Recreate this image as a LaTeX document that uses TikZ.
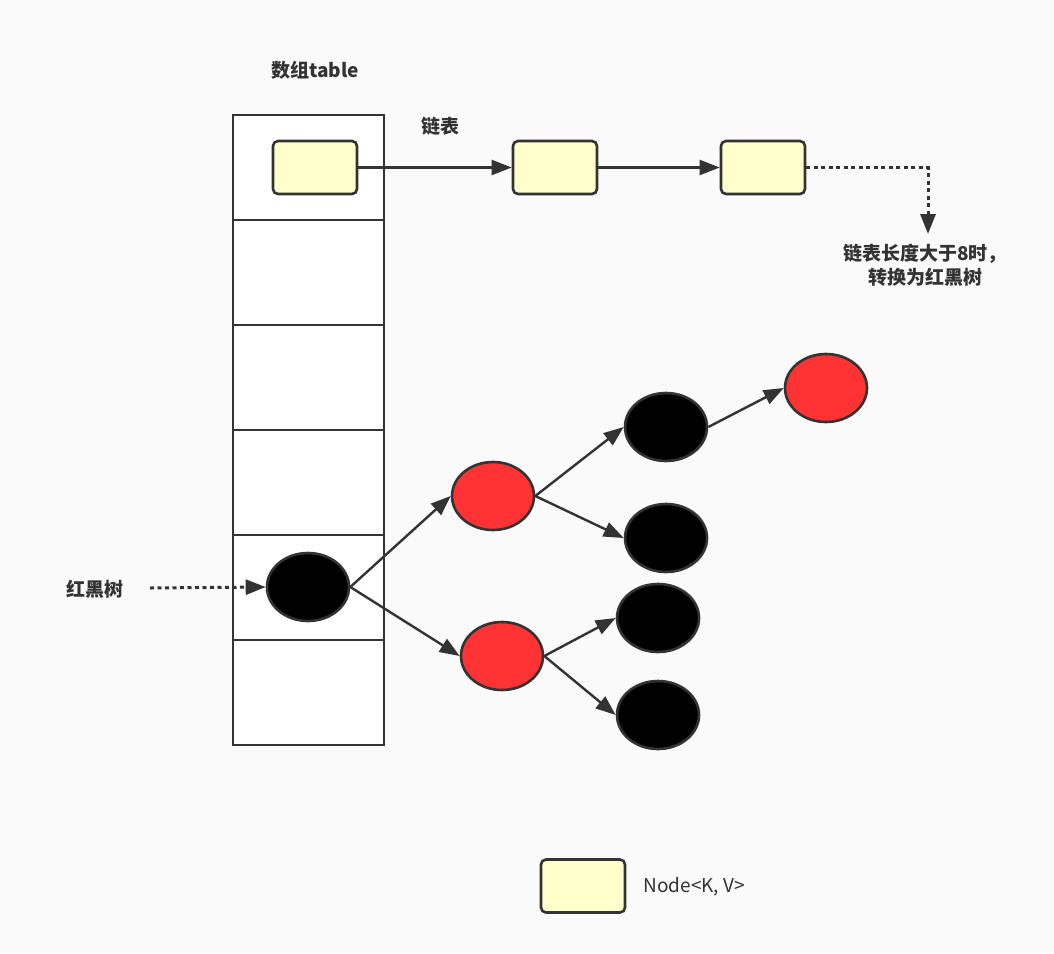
\documentclass[tikz,border=0pt]{standalone}
\usepackage{fontspec}
\setmainfont{Noto Sans CJK SC}
\usepackage{tikz}
\usetikzlibrary{arrows.meta,shapes.geometric}
\definecolor{inkgray}{HTML}{333333}
\definecolor{treered}{HTML}{FF3333}
\definecolor{kvyellow}{HTML}{FFFFCC}
\definecolor{pagebg}{HTML}{FAFAFA}

\begin{document}
\begin{tikzpicture}[
  x=1pt, y=-1pt,
  cell/.style={rectangle, draw=inkgray, line width=2.4pt, fill=white, minimum width=151pt, minimum height=105pt, inner sep=0pt},
  kvbox/.style={rectangle, rounded corners=5pt, draw=inkgray, line width=2.6pt, fill=kvyellow, minimum width=84pt, minimum height=53pt, inner sep=0pt},
  bnode/.style={ellipse, draw=inkgray, line width=2.6pt, fill=black, minimum width=82pt, minimum height=68pt, inner sep=0pt},
  rnode/.style={ellipse, draw=inkgray, line width=2.6pt, fill=treered, minimum width=82pt, minimum height=68pt, inner sep=0pt},
  link/.style={draw=inkgray, line width=2.4pt, -{Triangle[length=20pt,width=15pt]}},
  dots/.style={link, line width=3pt, dash pattern=on 4pt off 3.5pt},
  lbl/.style={font=\fontsize{19}{24}\selectfont\bfseries, text=inkgray, align=center}
]
% page
\fill[pagebg] (0,0) rectangle (1054,953);
\useasboundingbox (0,0) rectangle (1054,953);

% array table: 6 buckets
\node[lbl] (ttl) at (315,70) {数组table};
\node[cell] (c1) at (308.5,167.5) {};
\node[cell] (c2) at (308.5,272.5) {};
\node[cell] (c3) at (308.5,377.5) {};
\node[cell] (c4) at (308.5,482.5) {};
\node[cell] (c5) at (308.5,587.5) {};
\node[cell] (c6) at (308.5,692.5) {};

% linked list in bucket 1
\node[lbl] (lst) at (440,126) {链表};
\node[kvbox] (k1) at (315,167.5) {};
\node[kvbox] (k2) at (555,167.5) {};
\node[kvbox] (k3) at (763,167.5) {};
\draw[link] (k1)--(k2); \draw[link] (k2)--(k3);
\coordinate (turn) at (928,234);
\draw[dots] (k3.east) -| (turn);
\node[lbl] (note) at (925,265) {链表长度大于8时，\\ 转换为红黑树};

% red-black tree in bucket 5
\node[lbl] (rbt) at (95,589) {红黑树};
\coordinate (rbin) at (150,588);
\node[bnode] (r) at (308,587) {};
\draw[dots] (rbin)--(r.west);

% Level 1
\node[rnode] (a) at (493,496) {};
\node[rnode] (b) at (502,656) {};
\draw[link] (r.east)--(a.west); \draw[link] (r.east)--(b.west);

% Level 2
\node[bnode] (a1) at (666,427) {};
\node[bnode] (a2) at (666,538) {};
\node[bnode] (b1) at (658,618) {};
\node[bnode] (b2) at (658,715) {};
\draw[link] (a.east)--(a1.west); \draw[link] (a.east)--(a2.west);
\draw[link] (b.east)--(b1.west); \draw[link] (b.east)--(b2.west);

% Level 3
\node[rnode] (a11) at (826,388) {};
\draw[link] (a1.east)--(a11.west);

% legend
\node[kvbox] (key) at (583,886) {};
\node[anchor=west, font=\fontsize{19}{24}\selectfont, text=inkgray] (keytxt) at (640,887) {Node<K, V>};
\end{tikzpicture}
\end{document}
